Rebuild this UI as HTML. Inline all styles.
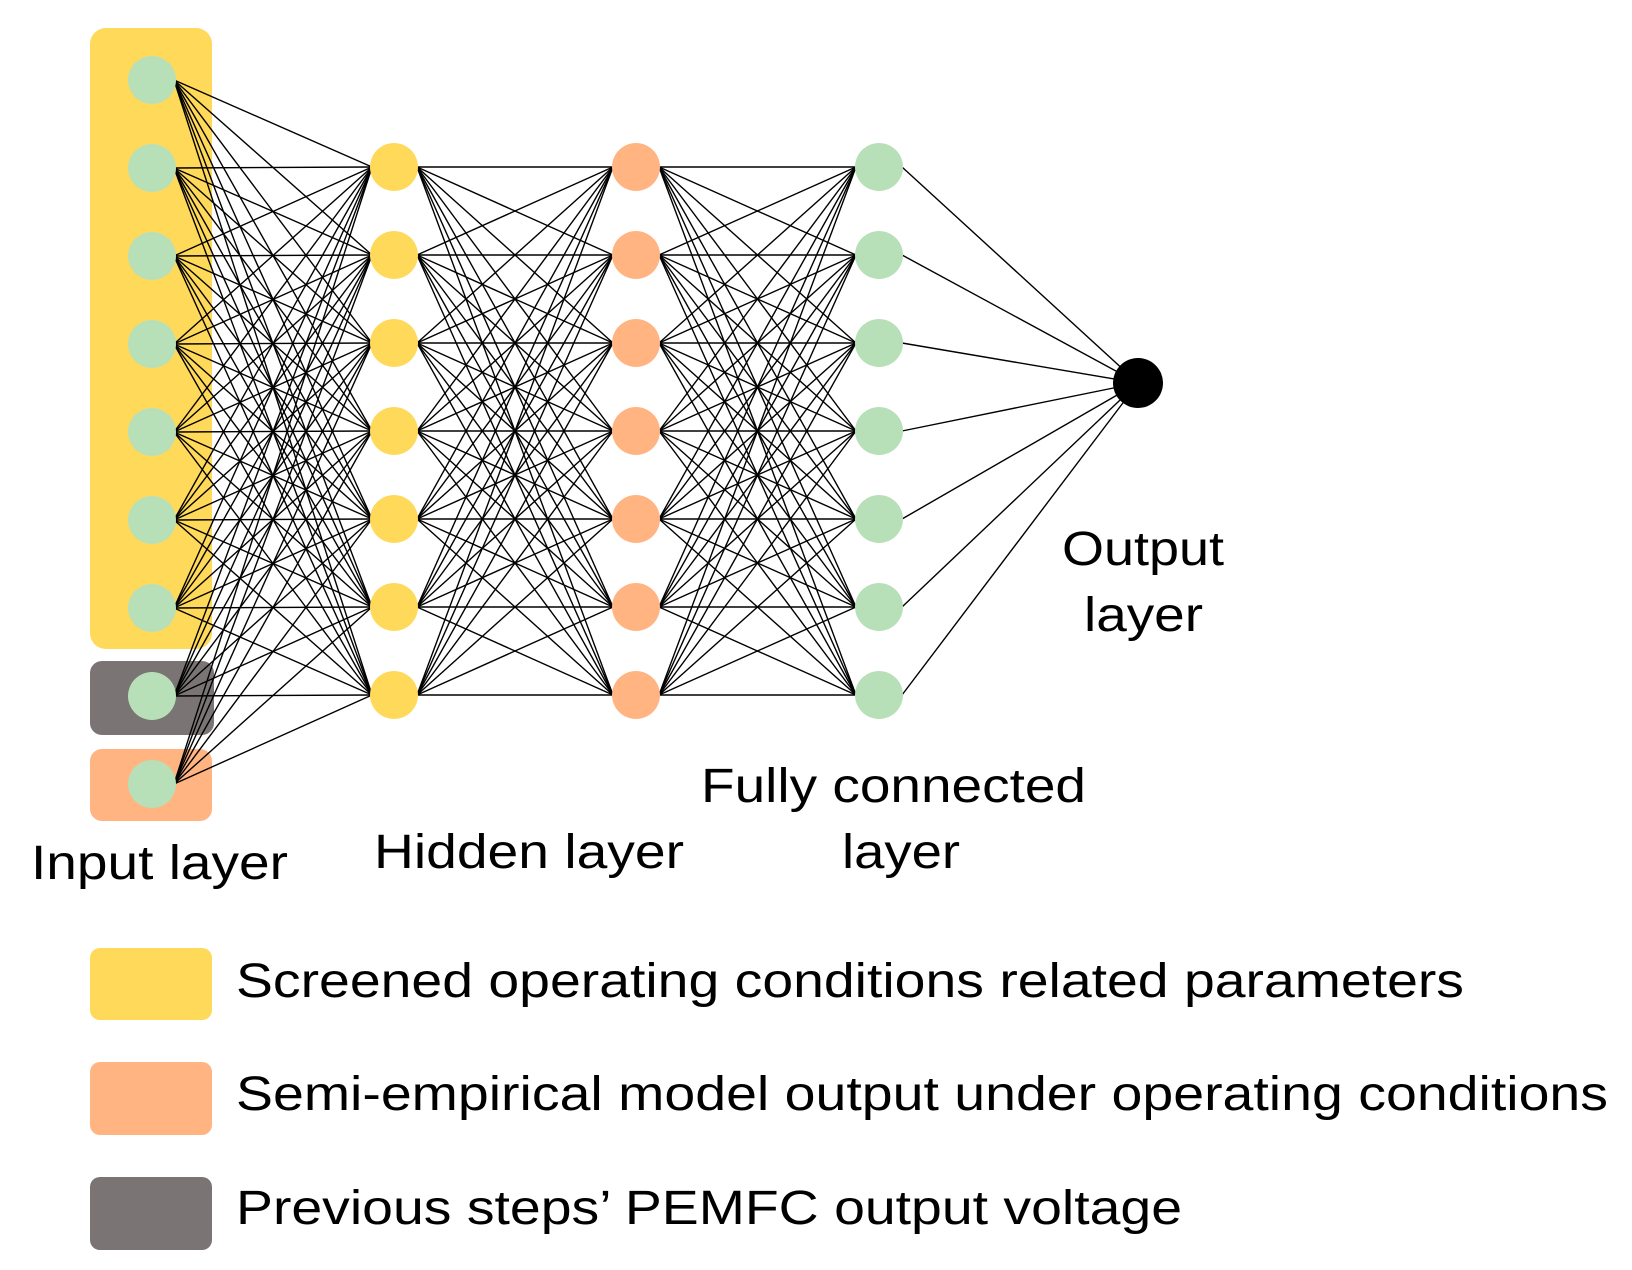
<!DOCTYPE html>
<html><head><meta charset="utf-8"><style>
html,body{margin:0;padding:0;background:#fff;width:1632px;height:1270px;overflow:hidden}
svg text{font-family:"Liberation Sans",Arial,sans-serif;fill:#000}
</style></head><body>
<svg id="s" width="1632" height="1270" viewBox="0 0 1632 1270" xmlns="http://www.w3.org/2000/svg">
<rect x="90" y="28" width="122" height="621" rx="16" fill="#ffd95a"/>
<rect x="90" y="661" width="124" height="74" rx="12" fill="#7b7474"/>
<rect x="90" y="749" width="122" height="72" rx="12" fill="#ffb482"/>
<g id="lines" stroke="#000" stroke-width="1.4"></g>
<g id="nodes"></g>
<text x="31" y="879" font-size="48" textLength="257" lengthAdjust="spacingAndGlyphs">Input layer</text>
<text x="374" y="868" font-size="48" textLength="310" lengthAdjust="spacingAndGlyphs">Hidden layer</text>
<text x="701" y="802" font-size="48" textLength="385" lengthAdjust="spacingAndGlyphs">Fully connected</text>
<text x="842" y="868" font-size="48" textLength="118" lengthAdjust="spacingAndGlyphs">layer</text>
<text x="1062" y="565" font-size="48" textLength="162" lengthAdjust="spacingAndGlyphs">Output</text>
<text x="1084" y="631" font-size="48" textLength="119" lengthAdjust="spacingAndGlyphs">layer</text>
<rect x="90" y="948" width="122" height="72" rx="10" fill="#ffd95a"/>
<rect x="90" y="1062" width="122" height="73" rx="10" fill="#ffb482"/>
<rect x="90" y="1177" width="122" height="73" rx="10" fill="#7b7474"/>
<text x="236" y="997" font-size="48" textLength="1228" lengthAdjust="spacingAndGlyphs">Screened operating conditions related parameters</text>
<text x="236" y="1110" font-size="48" textLength="1372" lengthAdjust="spacingAndGlyphs">Semi-empirical model output under operating conditions</text>
<text x="236" y="1224" font-size="48" textLength="946" lengthAdjust="spacingAndGlyphs">Previous steps’ PEMFC output voltage</text>
</svg>
<script>
var NS="http://www.w3.org/2000/svg";
var L=document.getElementById("lines"),N=document.getElementById("nodes");
function ln(a,b,c,d){var e=document.createElementNS(NS,"line");e.setAttribute("x1",a);e.setAttribute("y1",b);e.setAttribute("x2",c);e.setAttribute("y2",d);L.appendChild(e);}
function ci(x,y,r,f){var e=document.createElementNS(NS,"circle");e.setAttribute("cx",x);e.setAttribute("cy",y);e.setAttribute("r",r);e.setAttribute("fill",f);N.appendChild(e);}
var inY=[],hY=[];
for(var i=0;i<9;i++)inY.push(80+88*i);
for(var i=0;i<7;i++)hY.push(167+88*i);
var H1=394,H2=636,FC=879,OX=1138,OY=383;
inY.forEach(function(a){hY.forEach(function(b){ln(174,a,H1-22,b);});});
hY.forEach(function(a){hY.forEach(function(b){ln(H1+23,a,H2-23,b);ln(H2+23,a,FC-23,b);});});
hY.forEach(function(a){ln(FC+23,a,OX,OY);});
inY.forEach(function(y){ci(152,y,24,"#b8e0b8");});
hY.forEach(function(y){ci(H1,y,24,"#ffd95a");ci(H2,y,24,"#ffb482");ci(FC,y,24,"#b8e0b8");});
ci(OX,OY,25,"#000");
</script>
</body></html>
